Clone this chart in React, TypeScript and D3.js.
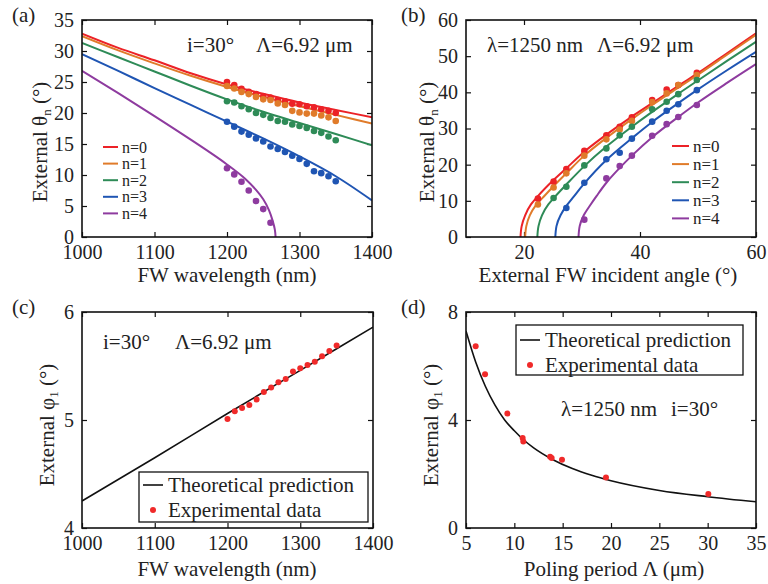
import React, { useEffect, useRef } from 'react';
import * as d3 from 'd3';

const colors = ['#ec2227', '#e07b2a', '#2e8b57', '#1f55b3', '#8e3b9f'];
const nLabels = ['n=0', 'n=1', 'n=2', 'n=3', 'n=4'];
const dotRed = '#f02a2a';

// panel (a): theta_n vs FW wavelength
const aWavelengths = [1200, 1210, 1220, 1230, 1240, 1250, 1260, 1270, 1280, 1290, 1300, 1310, 1320, 1330, 1340, 1350];
const aDots0 = [25.0, 24.5, 23.9, 23.4, 23.05, 22.7, 22.5, 22.1, 21.9, 21.5, 21.4, 21.1, 20.9, 20.6, 20.35, 20.0];
const aDots1 = [24.35, 23.95, 23.4, 23.05, 22.6, 22.2, 22.1, 21.55, 21.3, 20.35, 20.1, 19.9, 19.9, 19.6, 19.3, 18.7];
const aDots2 = [21.9, 21.7, 21.1, 20.6, 20.0, 19.7, 19.2, 18.7, 18.6, 18.15, 17.9, 17.6, 17.1, 16.8, 16.2, 15.6];
const aDots3 = [18.6, 17.8, 17.0, 16.5, 15.9, 15.4, 14.6, 14.2, 13.7, 13.1, 12.6, 11.8, 10.6, 10.3, 9.8, 9.0];
const aDots4 = [11.1, 10.1, 8.9, 7.5, 5.8, 4.5, 2.3];

const aCurveWl = [1000, 1050, 1100, 1150, 1200, 1250, 1300, 1350, 1400];
const aCurve0 = [32.8, 30.5, 28.5, 26.4, 24.6, 23.1, 21.7, 20.5, 19.3];
const aCurve1 = [32.4, 30.1, 28.0, 26.0, 24.2, 22.6, 21.1, 19.7, 18.3];
const aCurve2 = [31.3, 29.0, 26.7, 24.4, 22.2, 20.2, 18.4, 16.6, 14.8];
const aCurve3 = [29.5, 26.8, 24.0, 21.3, 18.6, 15.9, 13.0, 9.8, 5.9];
const aCurve4Wl = [1000, 1050, 1100, 1150, 1200, 1225, 1240, 1250, 1258, 1263, 1266, 1267];
const aCurve4 = [26.8, 23.2, 19.5, 15.7, 11.7, 9.4, 7.6, 6.1, 4.3, 2.6, 1.2, 0];

// panel (b): theta_n vs incident angle
const bAngles = [22.4, 25.1, 27.3, 30.4, 34.2, 36.5, 38.6, 42.1, 44.6, 46.6, 49.8];
const bDots0 = [10.6, 15.3, 18.8, 23.8, 28.1, 30.5, 33.1, 37.9, 40.8, 42.0, 45.4];
const bDots1 = [9.0, 13.7, 17.6, 22.5, 27.0, 29.7, 32.1, 37.3, 39.7, 42.0, 44.8];
const bDots2 = [null, 10.8, 13.9, 19.8, 24.5, 28.1, 30.5, 35.3, 37.4, 39.5, 43.4];
const bDots3 = [null, null, 8.0, 15.0, 21.5, 23.3, 27.2, 31.9, 34.9, 36.7, 40.6];
const bDots4 = [null, null, null, 4.8, 16.2, 19.6, 22.5, 28.0, 31.2, 33.2, 36.5];

const bCurveA0 = [19.4, 19.6, 20.2, 21.2, 22.4, 25, 27.3, 30.4, 34.2, 38.6, 42.1, 46.6, 50, 55, 60];
const bCurve0 = [0, 3, 6, 9, 11.3, 15.6, 19, 23.6, 28.3, 33.3, 37, 41.8, 45.3, 50.8, 56.3];
const bCurveA1 = [20.2, 20.4, 21, 22, 23.2, 25, 27.3, 30.4, 34.2, 38.6, 42.1, 46.6, 50, 55, 60];
const bCurve1 = [0, 3, 6, 8.7, 10.8, 13.9, 17.6, 22.5, 27.4, 32.6, 36.5, 41.3, 44.9, 50.4, 55.9];
const bCurveA2 = [22.3, 22.5, 23.1, 24.2, 25.1, 27.3, 30.4, 34.2, 38.6, 42.1, 46.6, 50, 55, 60];
const bCurve2 = [0, 3, 6, 9, 10.7, 14.5, 19.6, 25, 30.5, 34.6, 39.6, 43.3, 48.7, 54.0];
const bCurveA3 = [25.4, 25.6, 26.3, 27.5, 28.5, 30.4, 34.2, 38.6, 42.1, 46.6, 50, 55, 60];
const bCurve3 = [0, 3, 6, 9, 11, 14.8, 21.3, 27.3, 31.8, 37, 40.8, 46.1, 51.2];
const bCurveA4 = [29.4, 29.6, 30.3, 31.5, 32.5, 34.2, 36.5, 38.6, 42.1, 46.6, 50, 55, 60];
const bCurve4 = [0, 3, 6, 9, 11.3, 15, 19.1, 22.5, 27.6, 33.2, 37.2, 42.6, 47.8];

// panel (c): phi_1 vs FW wavelength
const cLineWl = [1000, 1100, 1200, 1300, 1400];
const cLine = [4.25, 4.65, 5.06, 5.46, 5.86];
const cDots = [5.01, 5.08, 5.11, 5.14, 5.19, 5.26, 5.30, 5.35, 5.38, 5.45, 5.48, 5.51, 5.54, 5.59, 5.64, 5.69];

// panel (d): phi_1 vs poling period
const dLinePeriod = [5, 6, 7, 8, 9, 10, 11, 12, 14, 16, 18, 20, 25, 30, 35];
const dLine = [7.3, 6.15, 5.25, 4.55, 4.0, 3.6, 3.25, 2.97, 2.53, 2.2, 1.95, 1.75, 1.39, 1.16, 0.97];
const dDotsPeriod = [6.0, 6.97, 9.28, 10.86, 10.93, 13.7, 13.86, 14.93, 19.48, 30.07];
const dDots = [6.73, 5.69, 4.24, 3.33, 3.2, 2.64, 2.59, 2.53, 1.87, 1.26];

const FONT = "'Liberation Serif', 'Times New Roman', Times, serif";

export default function App() {
  const ref = useRef<SVGSVGElement>(null);

  useEffect(() => {
    const svg = d3.select(ref.current);
    svg.selectAll('*').remove();

    const makePanel = (id, box, xDom, yDom, xTicks, yTicks) => {
      const x = d3.scaleLinear().domain(xDom).range([box.left, box.right]);
      const y = d3.scaleLinear().domain(yDom).range([box.bottom, box.top]);
      const g = svg.append('g');
      g.append('clipPath')
        .attr('id', 'clip-' + id)
        .append('rect')
        .attr('x', box.left)
        .attr('y', box.top)
        .attr('width', box.right - box.left)
        .attr('height', box.bottom - box.top);

      const fmt = (d) => String(d);
      const axes = [
        d3.axisBottom(x).tickValues(xTicks).tickSize(-5).tickPadding(8).tickFormat(fmt),
        d3.axisTop(x).tickValues(xTicks).tickSize(-5).tickFormat(() => ''),
        d3.axisLeft(y).tickValues(yTicks).tickSize(-5).tickPadding(8).tickFormat(fmt),
        d3.axisRight(y).tickValues(yTicks).tickSize(-5).tickFormat(() => ''),
      ];
      const trans = [
        `translate(0,${box.bottom})`,
        `translate(0,${box.top})`,
        `translate(${box.left},0)`,
        `translate(${box.right},0)`,
      ];
      axes.forEach((ax, i) => {
        const a = g.append('g').attr('transform', trans[i]).call(ax);
        a.attr('font-family', FONT);
        a.select('.domain').remove();
        a.selectAll('line').attr('stroke', '#111').attr('stroke-width', 1.2);
        a.selectAll('text')
          .style('font-family', FONT)
          .style('font-size', '20px')
          .attr('fill', '#222');
      });
      const plot = g.append('g').attr('clip-path', `url(#clip-${id})`);
      const top = svg.append('g');
      top
        .append('rect')
        .attr('x', box.left)
        .attr('y', box.top)
        .attr('width', box.right - box.left)
        .attr('height', box.bottom - box.top)
        .attr('fill', 'none')
        .attr('stroke', '#111')
        .attr('stroke-width', 1.6);
      return { x, y, g, plot, top };
    };

    const text = (sel, xx, yy, str, size, anchor = 'start') =>
      sel
        .append('text')
        .attr('x', xx)
        .attr('y', yy)
        .attr('text-anchor', anchor)
        .attr('dominant-baseline', 'central')
        .style('font-family', FONT)
        .style('font-size', size + 'px')
        .attr('fill', '#222')
        .text(str);

    const yTitle = (sel, xx, yy, sym, sub) => {
      const t = sel
        .append('text')
        .attr('transform', `translate(${xx},${yy}) rotate(-90)`)
        .attr('text-anchor', 'middle')
        .attr('dominant-baseline', 'central')
        .style('font-family', FONT)
        .style('font-size', '21px')
        .attr('fill', '#222');
      t.append('tspan').text('External ' + sym);
      t.append('tspan').attr('dy', 6).style('font-size', '13px').text(sub);
      t.append('tspan').attr('dy', -6).text(' (°)');
    };

    const line = (p, xs, ys, color, width, curve) =>
      p.plot
        .append('path')
        .datum(xs.map((v, i) => [v, ys[i]]))
        .attr('d', d3.line().x((d) => p.x(d[0])).y((d) => p.y(d[1])).curve(curve))
        .attr('fill', 'none')
        .attr('stroke', color)
        .attr('stroke-width', width);

    const dots = (p, xs, ys, color, r) =>
      p.plot
        .selectAll(null)
        .data(xs.map((v, i) => [v, ys[i]]).filter((d) => d[1] != null))
        .enter()
        .append('circle')
        .attr('cx', (d) => p.x(d[0]))
        .attr('cy', (d) => p.y(d[1]))
        .attr('r', r)
        .attr('fill', color);

    // ---- (a)
    const A = makePanel('a', { left: 82, right: 372, top: 20, bottom: 237 }, [1000, 1400], [0, 35],
      [1000, 1100, 1200, 1300, 1400], [0, 5, 10, 15, 20, 25, 30, 35]);
    const aCurves = [aCurve0, aCurve1, aCurve2, aCurve3];
    aCurves.forEach((c, i) => line(A, aCurveWl, c, colors[i], 2, d3.curveMonotoneX));
    line(A, aCurve4Wl, aCurve4, colors[4], 2, d3.curveMonotoneY);
    [aDots0, aDots1, aDots2, aDots3, aDots4].forEach((ds, i) =>
      dots(A, aWavelengths.slice(0, ds.length), ds, colors[i], 3.3));
    nLabels.forEach((l, i) => {
      const yy = 147 + i * 16.6;
      A.top.append('line').attr('x1', 103).attr('x2', 118).attr('y1', yy).attr('y2', yy)
        .attr('stroke', colors[i]).attr('stroke-width', 2);
      text(A.top, 122, yy, l, 16);
    });
    text(A.top, 187, 45, 'i=30°', 21);
    text(A.top, 256, 45, 'Λ=6.92 μm', 21);
    text(svg, 12, 15, '(a)', 21);
    text(svg, 227, 275, 'FW wavelength (nm)', 21, 'middle');
    yTitle(svg, 40, 142, 'θ', 'n');

    // ---- (b)
    const B = makePanel('b', { left: 466, right: 756, top: 20, bottom: 237 }, [10, 60], [0, 60],
      [20, 40, 60], [0, 10, 20, 30, 40, 50, 60]);
    [[bCurveA0, bCurve0], [bCurveA1, bCurve1], [bCurveA2, bCurve2], [bCurveA3, bCurve3], [bCurveA4, bCurve4]]
      .forEach((c, i) => line(B, c[0], c[1], colors[i], 2, d3.curveMonotoneY));
    [bDots0, bDots1, bDots2, bDots3, bDots4].forEach((ds, i) => dots(B, bAngles, ds, colors[i], 3.3));
    nLabels.forEach((l, i) => {
      const yy = 146 + i * 18.1;
      B.top.append('line').attr('x1', 672).attr('x2', 689).attr('y1', yy).attr('y2', yy)
        .attr('stroke', colors[i]).attr('stroke-width', 2);
      text(B.top, 693, yy, l, 17);
    });
    text(B.top, 487, 45, 'λ=1250 nm', 21);
    text(B.top, 597, 45, 'Λ=6.92 μm', 21);
    text(svg, 401, 15, '(b)', 21);
    text(svg, 608, 275, 'External FW incident angle (°)', 21, 'middle');
    yTitle(svg, 427, 142, 'θ', 'n');

    // ---- (c)
    const C = makePanel('c', { left: 82, right: 373, top: 312, bottom: 528 }, [1000, 1400], [4, 6],
      [1000, 1100, 1200, 1300, 1400], [4, 5, 6]);
    line(C, cLineWl, cLine, '#111', 1.6, d3.curveMonotoneX);
    dots(C, aWavelengths, cDots, dotRed, 3);
    text(C.top, 103, 342, 'i=30°', 21);
    text(C.top, 175, 342, 'Λ=6.92 μm', 21);
    C.top.append('rect').attr('x', 139).attr('y', 472).attr('width', 229).attr('height', 50)
      .attr('fill', '#fff').attr('stroke', '#111').attr('stroke-width', 1.3);
    C.top.append('line').attr('x1', 143).attr('x2', 163).attr('y1', 485).attr('y2', 485)
      .attr('stroke', '#111').attr('stroke-width', 1.6);
    text(C.top, 168, 485, 'Theoretical prediction', 21);
    C.top.append('circle').attr('cx', 153).attr('cy', 510).attr('r', 3).attr('fill', dotRed);
    text(C.top, 168, 510, 'Experimental data', 21);
    text(svg, 12, 307, '(c)', 21);
    text(svg, 227, 569, 'FW wavelength (nm)', 21, 'middle');
    yTitle(svg, 47, 425, 'φ', '1');

    // ---- (d)
    const D = makePanel('d', { left: 466, right: 756, top: 312, bottom: 528 }, [5, 35], [0, 8],
      [5, 10, 15, 20, 25, 30, 35], [0, 4, 8]);
    line(D, dLinePeriod, dLine, '#111', 1.6, d3.curveMonotoneX);
    dots(D, dDotsPeriod, dDots, dotRed, 3);
    D.top.append('rect').attr('x', 516).attr('y', 325).attr('width', 227).attr('height', 50)
      .attr('fill', '#fff').attr('stroke', '#111').attr('stroke-width', 1.3);
    D.top.append('line').attr('x1', 520).attr('x2', 540).attr('y1', 340).attr('y2', 340)
      .attr('stroke', '#111').attr('stroke-width', 1.6);
    text(D.top, 545, 340, 'Theoretical prediction', 21);
    D.top.append('circle').attr('cx', 530).attr('cy', 365).attr('r', 3).attr('fill', dotRed);
    text(D.top, 545, 365, 'Experimental data', 21);
    text(D.top, 561, 409, 'λ=1250 nm', 21);
    text(D.top, 671, 409, 'i=30°', 21);
    text(svg, 401, 307, '(d)', 21);
    text(svg, 614, 569, 'Poling period Λ (μm)', 21, 'middle');
    yTitle(svg, 431, 425, 'φ', '1');
  }, []);

  return (
    <svg
      ref={ref}
      width={768}
      height={584}
      fontFamily={FONT}
      style={{ position: 'absolute', left: 0, top: 0, background: '#fff' }}
    />
  );
}
